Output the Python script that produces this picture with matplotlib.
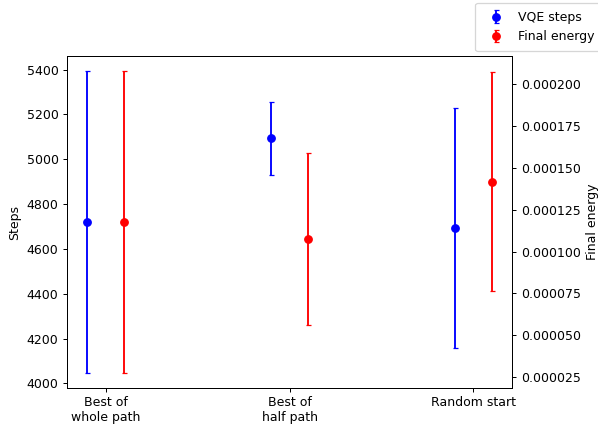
import numpy as np
import matplotlib
matplotlib.use("Agg")
import matplotlib.pyplot as plt

# ── Data ──────────────────────────────────────────────────────────────────────
categories = ["Best of\nwhole path", "Best of\nhalf path", "Random start"]

steps_mean = [4720, 5093, 4694]
steps_err = [672, 163, 535]

energy_mean = [0.0001177, 0.0001075, 0.0001417]
energy_err = [0.0000900, 0.0000514, 0.0000655]

# ── Plot ──────────────────────────────────────────────────────────────────────
DPI = 90
fig = plt.figure(figsize=(598 / DPI, 424 / DPI), dpi=DPI)
ax1 = fig.add_axes([0.1125, 0.0856, 0.7437, 0.7816])
ax2 = ax1.twinx()

x = np.arange(len(categories))
offset = 0.1

ax1.errorbar(x - offset, steps_mean, yerr=steps_err, fmt="o", color="blue",
             capsize=2, label="VQE steps")
ax2.errorbar(x + offset, energy_mean, yerr=energy_err, fmt="o", color="red",
             capsize=2, label="Final energy")

ax1.set_xticks(x)
ax1.set_xticklabels(categories)
ax1.set_ylabel("Steps")
ax2.set_ylabel("Final energy")

fig.legend(loc="upper right", bbox_to_anchor=(1.0084, 0.993),
           borderaxespad=0, borderpad=0.65)

plt.savefig("out.png", dpi=DPI)
